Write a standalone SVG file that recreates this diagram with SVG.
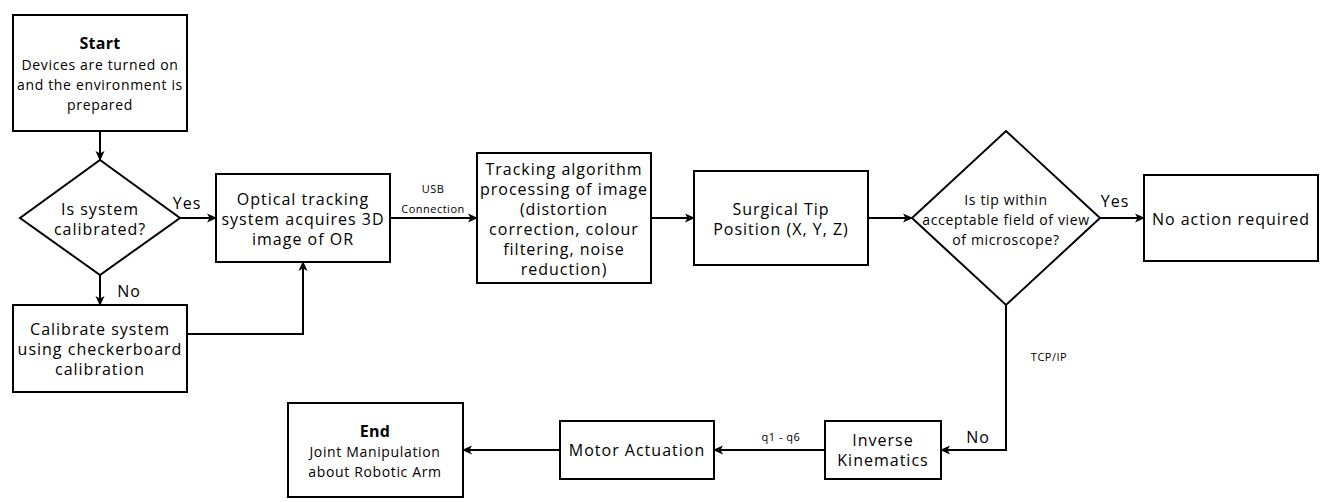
<svg xmlns="http://www.w3.org/2000/svg" width="1334" height="502" viewBox="0 0 1334 502">
<defs>
<marker id="arr" markerWidth="12" markerHeight="12" refX="10" refY="6" orient="auto" markerUnits="userSpaceOnUse">
<path d="M1,1.5 L11,6 L1,10.5 L3.5,6 Z" fill="#000"/>
</marker>
<style>
.n{fill:#fff;stroke:#000;stroke-width:2}
.c{fill:none;stroke:#000;stroke-width:2;marker-end:url(#arr)}
text{font-family:"Open Sans","Noto Sans",sans-serif;fill:#000;text-anchor:middle}
.t{font-size:16px;letter-spacing:1px}
.s{font-size:14px;letter-spacing:0.65px}
.b{font-size:16px;font-weight:bold;letter-spacing:0.3px}
.l{font-size:11px;letter-spacing:0.5px}
</style>
</defs>
<rect width="1334" height="502" fill="#fff"/>
<g id="connectors">
<path class="c" d="M100,131 V160"/>
<path class="c" d="M180,218 H216"/>
<path class="c" d="M100,275 V305"/>
<path class="c" d="M187,334 H303 V262"/>
<path class="c" d="M390,218 H477"/>
<path class="c" d="M651,218 H694"/>
<path class="c" d="M868,218 H912"/>
<path class="c" d="M1100,218 H1144"/>
<path class="c" d="M1006,305 V450 H941"/>
<path class="c" d="M825,450 H714"/>
<path class="c" d="M560,450 H463"/>
<text class="t" x="187" y="209">Yes</text>
<text class="t" x="129" y="297">No</text>
<text class="l" x="433" y="193">USB</text>
<text class="l" x="433" y="213">Connection</text>
<text class="t" x="1115" y="207">Yes</text>
<text class="l" x="1049" y="361">TCP/IP</text>
<text class="t" x="978" y="443">No</text>
<text class="l" x="781" y="441">q1 - q6</text>
</g>
<g id="start">
<rect class="n" x="13" y="15" width="174" height="116"/>
<text class="b" x="100" y="49">Start</text>
<text class="s" x="100" y="70">Devices are turned on</text>
<text class="s" x="100" y="90">and the environment is</text>
<text class="s" x="100" y="110">prepared</text>
</g>
<g id="calibrated">
<path class="n" d="M100,160 L180,218 L100,275 L20,218 Z"/>
<text class="t" x="100" y="215">Is system</text>
<text class="t" x="100" y="235">calibrated?</text>
</g>
<g id="calibrate">
<rect class="n" x="13" y="305" width="174" height="87"/>
<text class="t" x="100" y="335">Calibrate system</text>
<text class="t" x="100" y="355">using checkerboard</text>
<text class="t" x="100" y="375">calibration</text>
</g>
<g id="optical">
<rect class="n" x="216" y="174" width="174" height="88"/>
<text class="t" x="303" y="205">Optical tracking</text>
<text class="t" x="303" y="225">system acquires 3D</text>
<text class="t" x="303" y="245">image of OR</text>
</g>
<g id="tracking">
<rect class="n" x="477" y="153" width="174" height="130"/>
<text class="t" x="564" y="175">Tracking algorithm</text>
<text class="t" x="564" y="195">processing of image</text>
<text class="t" x="564" y="215">(distortion</text>
<text class="t" x="564" y="235">correction, colour</text>
<text class="t" x="564" y="255">filtering, noise</text>
<text class="t" x="564" y="275">reduction)</text>
</g>
<g id="surgical">
<rect class="n" x="694" y="171" width="174" height="94"/>
<text class="t" x="781" y="215">Surgical Tip</text>
<text class="t" x="781" y="235">Position (X, Y, Z)</text>
</g>
<g id="fov">
<path class="n" d="M1006,131 L1100,218 L1006,305 L912,218 Z"/>
<text class="s" x="1006" y="205">Is tip within</text>
<text class="s" x="1006" y="225">acceptable field of view</text>
<text class="s" x="1006" y="245">of microscope?</text>
</g>
<g id="noaction">
<rect class="n" x="1144" y="175" width="174" height="86"/>
<text class="t" x="1231" y="225">No action required</text>
</g>
<g id="ik">
<rect class="n" x="825" y="421" width="116" height="58"/>
<text class="t" x="883" y="446">Inverse</text>
<text class="t" x="883" y="466">Kinematics</text>
</g>
<g id="motor">
<rect class="n" x="560" y="421" width="154" height="58"/>
<text class="t" x="637" y="456">Motor Actuation</text>
</g>
<g id="end">
<rect class="n" x="288" y="403" width="175" height="94"/>
<text class="b" x="375" y="437">End</text>
<text class="s" x="375" y="457">Joint Manipulation</text>
<text class="s" x="375" y="477">about Robotic Arm</text>
</g>
</svg>
